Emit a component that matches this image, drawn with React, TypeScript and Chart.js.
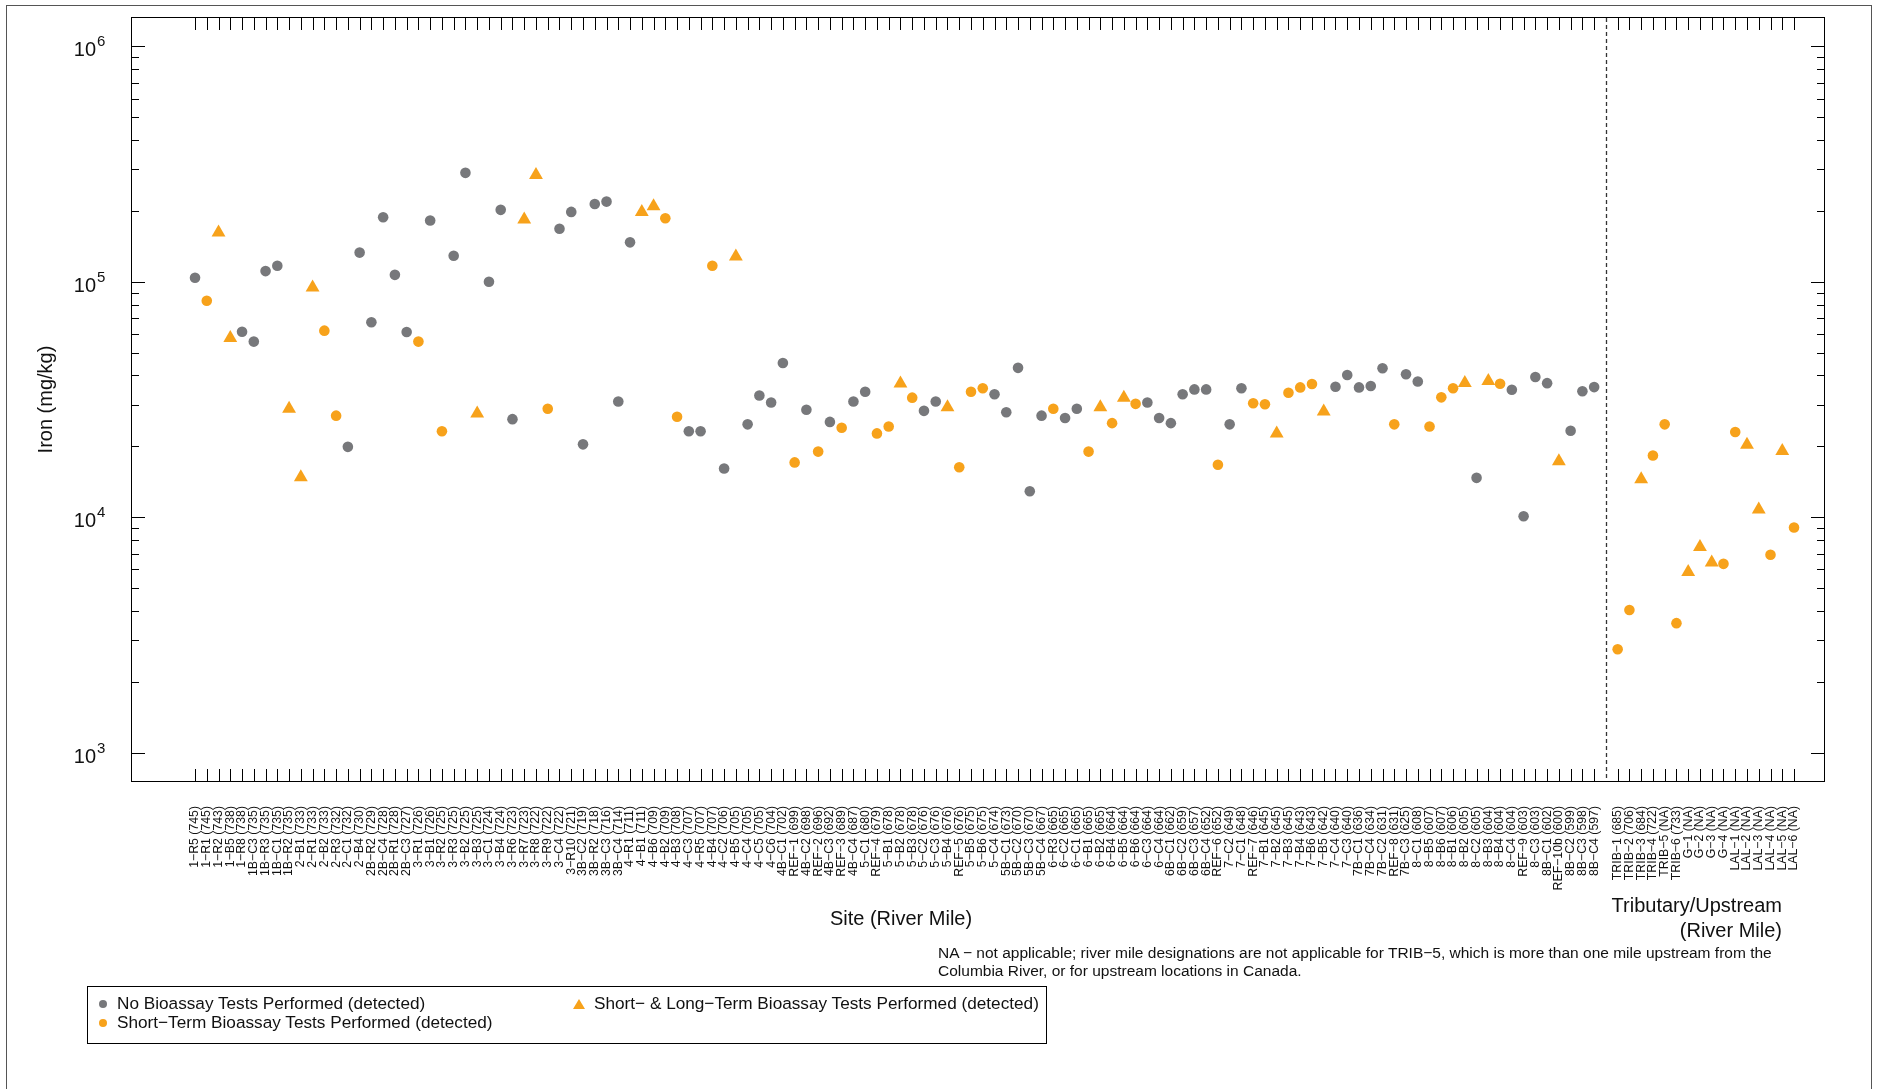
import React, { useEffect, useRef } from 'react';
import { Chart, registerables } from 'chart.js';

Chart.register(...registerables);

const FONT = '"Liberation Sans", Arial, Helvetica, sans-serif';

// Site labels (river mile) in the Columbia River reach
const mainSites = [
  '1−R5 (745)', '1−R1 (745)', '1−R2 (743)', '1−B5 (738)', '1−R8 (738)', '1B−C3 (735)', '1B−R3 (735)', '1B−C1 (735)',
  '1B−R2 (735)', '2−B1 (733)', '2−R1 (733)', '2−B2 (733)', '2−R3 (732)', '2−C1 (732)', '2−B4 (730)', '2B−R2 (729)',
  '2B−C4 (728)', '2B−R1 (728)', '2B−C3 (727)', '3−R1 (726)', '3−B1 (726)', '3−R2 (725)', '3−R3 (725)', '3−B2 (725)',
  '3−B3 (725)', '3−C1 (724)', '3−B4 (724)', '3−R6 (723)', '3−R7 (723)', '3−R8 (722)', '3−R9 (722)', '3−C4 (722)',
  '3−R10 (721)', '3B−C2 (719)', '3B−R2 (718)', '3B−C3 (716)', '3B−C4 (714)', '4−R1 (711)', '4−B1 (711)', '4−B6 (709)',
  '4−B2 (709)', '4−B3 (708)', '4−C3 (707)', '4−R5 (707)', '4−B4 (707)', '4−C2 (706)', '4−B5 (705)', '4−C4 (705)',
  '4−C5 (705)', '4−C6 (704)', '4B−C1 (702)', 'REF−1 (699)', '4B−C2 (698)', 'REF−2 (696)', '4B−C3 (692)', 'REF−3 (689)',
  '4B−C4 (687)', '5−C1 (680)', 'REF−4 (679)', '5−B1 (678)', '5−B2 (678)', '5−B3 (678)', '5−C2 (676)', '5−C3 (676)',
  '5−B4 (676)', 'REF−5 (676)', '5−B5 (675)', '5−B6 (675)', '5−C4 (674)', '5B−C1 (673)', '5B−C2 (670)', '5B−C3 (670)',
  '5B−C4 (667)', '6−R3 (665)', '6−C2 (665)', '6−C1 (665)', '6−B1 (665)', '6−B2 (665)', '6−B4 (664)', '6−B5 (664)',
  '6−B6 (664)', '6−C3 (664)', '6−C4 (664)', '6B−C1 (662)', '6B−C2 (659)', '6B−C3 (657)', '6B−C4 (652)', 'REF−6 (652)',
  '7−C2 (649)', '7−C1 (648)', 'REF−7 (646)', '7−B1 (645)', '7−B2 (645)', '7−B3 (645)', '7−B4 (643)', '7−B6 (643)',
  '7−B5 (642)', '7−C4 (640)', '7−C3 (640)', '7B−C1 (636)', '7B−C4 (634)', '7B−C2 (631)', 'REF−8 (631)', '7B−C3 (625)',
  '8−C1 (608)', '8−B5 (607)', '8−B6 (607)', '8−B1 (606)', '8−B2 (605)', '8−C2 (605)', '8−B3 (604)', '8−B4 (604)',
  '8−C4 (604)', 'REF−9 (603)', '8−C3 (603)', '8B−C1 (602)', 'REF−10b (600)', '8B−C2 (599)', '8B−C3 (598)', '8B−C4 (597)',
];

// Iron (mg/kg) for the main sites
const mainIron = [
  104000, 83000, 162000, 57700, 61300, 55700, 111000, 117000,
  28900, 14800, 94500, 62000, 27000, 19900, 133000, 67300,
  188000, 107000, 61200, 55700, 182000, 23200, 129000, 290000,
  27600, 100000, 202000, 26100, 184000, 284000, 28900, 168000,
  198000, 20400, 214000, 219000, 31000, 147000, 198000, 209000,
  186000, 26700, 23200, 23200, 117000, 16100, 128000, 24800,
  32900, 30700, 45200, 17100, 28600, 19000, 25400, 24000,
  31000, 34100, 22700, 24300, 37000, 32200, 28300, 31000,
  29300, 16300, 34100, 35300, 33300, 27900, 43100, 12900,
  27000, 28900, 26400, 28900, 19000, 29300, 25100, 32200,
  30300, 30700, 26400, 25100, 33300, 34900, 34900, 16700,
  24800, 35300, 30500, 30200, 22700, 33800, 35600, 36800,
  28100, 35800, 40200, 35600, 36100, 42900, 24800, 40500,
  37700, 24300, 32300, 35300, 37200, 14700, 37900, 36900,
  34800, 10100, 39400, 37100, 17300, 23300, 34300, 35700,
];

// Bioassay group: N = none, S = short-term, L = short- & long-term
const mainGroup = [
  'N', 'S', 'L', 'L', 'N', 'N', 'N', 'N', 'L', 'L', 'L', 'S', 'S', 'N', 'N', 'N',
  'N', 'N', 'N', 'S', 'N', 'S', 'N', 'N', 'L', 'N', 'N', 'N', 'L', 'L', 'S', 'N',
  'N', 'N', 'N', 'N', 'N', 'N', 'L', 'L', 'S', 'S', 'N', 'N', 'S', 'N', 'L', 'N',
  'N', 'N', 'N', 'S', 'N', 'S', 'N', 'S', 'N', 'N', 'S', 'S', 'L', 'S', 'N', 'N',
  'L', 'S', 'S', 'S', 'N', 'N', 'N', 'N', 'N', 'S', 'N', 'N', 'S', 'L', 'S', 'L',
  'S', 'N', 'N', 'N', 'N', 'N', 'N', 'S', 'N', 'N', 'S', 'S', 'L', 'S', 'S', 'S',
  'L', 'N', 'N', 'N', 'N', 'N', 'S', 'N', 'N', 'S', 'S', 'S', 'L', 'N', 'L', 'S',
  'N', 'N', 'N', 'N', 'L', 'N', 'N', 'N',
];

// Tributary / upstream sites
const tribSites = [
  'TRIB−1 (685)', 'TRIB−2 (706)', 'TRIB−3 (684)', 'TRIB−4 (722)', 'TRIB−5 (NA)', 'TRIB−6 (733)',
  'G−1 (NA)', 'G−2 (NA)', 'G−3 (NA)', 'G−4 (NA)',
  'LAL−1 (NA)', 'LAL−2 (NA)', 'LAL−3 (NA)', 'LAL−4 (NA)', 'LAL−5 (NA)', 'LAL−6 (NA)',
];
const tribIron = [2750, 4040, 14500, 18300, 24800, 3550, 5850, 7480, 6420, 6340, 23000, 20300, 10800, 6930, 19100, 9040];
const tribGroup = ['S', 'S', 'L', 'S', 'S', 'S', 'L', 'L', 'L', 'S', 'S', 'L', 'L', 'S', 'L', 'S'];

const yTickPowers = [3, 4, 5, 6];

const GRAY = '#77787b';
const ORANGE = '#f7a21b';

// axis ranges
const X_MIN = -4.36;
const X_MAX = 139.55;
const Y_MIN = Math.pow(10, 2.88);
const Y_MAX = Math.pow(10, 6.12);
const DIVIDER = mainSites.length + 1;

const W = 1879;
const H = 1089;

export default function App() {
  const ref = useRef<HTMLCanvasElement | null>(null);

  useEffect(() => {
    const canvas = ref.current;
    if (!canvas) return;

    const positions: number[] = [];
    const labels: string[] = [];
    const values: number[] = [];
    const groups: string[] = [];
    mainSites.forEach((s, i) => {
      positions.push(i + 1);
      labels.push(s);
      values.push(mainIron[i]);
      groups.push(mainGroup[i]);
    });
    tribSites.forEach((s, i) => {
      positions.push(DIVIDER + 1 + i);
      labels.push(s);
      values.push(tribIron[i]);
      groups.push(tribGroup[i]);
    });
    const labelByPos = new Map<number, string>();
    positions.forEach((p, i) => labelByPos.set(p, labels[i]));

    const pick = (g: string) =>
      positions
        .map((p, i) => ({ x: p, y: values[i], g: groups[i] }))
        .filter((d) => d.g === g)
        .map((d) => ({ x: d.x, y: d.y }));

    const framePlugin = {
      id: 'frame',
      afterDatasetsDraw(chart: any) {
        const { ctx, chartArea } = chart;
        const { left, right, top, bottom } = chartArea;
        const xs = chart.scales.x;
        const ys = chart.scales.y;
        ctx.save();
        // dashed divider
        const dx = Math.round(xs.getPixelForValue(DIVIDER)) + 0.5;
        ctx.strokeStyle = '#333';
        ctx.lineWidth = 1.3;
        ctx.setLineDash([4, 3]);
        ctx.beginPath();
        ctx.moveTo(dx, top);
        ctx.lineTo(dx, bottom);
        ctx.stroke();
        ctx.setLineDash([]);

        ctx.strokeStyle = '#000';
        ctx.lineWidth = 1;
        ctx.strokeRect(Math.round(left) - 0.5, Math.round(top) - 0.5, Math.round(right - left) + 1, Math.round(bottom - top) + 1);

        ctx.beginPath();
        positions.forEach((p) => {
          const px = Math.round(xs.getPixelForValue(p)) + 0.5;
          ctx.moveTo(px, bottom);
          ctx.lineTo(px, bottom - 12);
          ctx.moveTo(px, top);
          ctx.lineTo(px, top + 12);
        });
        for (let k = 3; k <= 6; k++) {
          for (let m = 1; m <= 9; m++) {
            const v = m * Math.pow(10, k);
            if (v > 1e6) continue;
            const py = Math.round(ys.getPixelForValue(v)) + 0.5;
            const len = m === 1 ? 13 : 7;
            ctx.moveTo(left, py);
            ctx.lineTo(left + len, py);
            ctx.moveTo(right, py);
            ctx.lineTo(right - len, py);
          }
        }
        ctx.stroke();

        // y tick labels 10^k
        ctx.fillStyle = '#111';
        ctx.textBaseline = 'alphabetic';
        yTickPowers.forEach((k) => {
          const py = ys.getPixelForValue(Math.pow(10, k));
          ctx.font = `20px ${FONT}`;
          ctx.textAlign = 'right';
          ctx.fillText('10', 96, py + 10);
          ctx.font = `15px ${FONT}`;
          ctx.textAlign = 'left';
          ctx.fillText(String(k), 97, py);
        });
        ctx.restore();
      },
    };

    const chart = new Chart(canvas, {
      type: 'scatter',
      data: {
        datasets: [
          {
            label: 'No Bioassay Tests Performed (detected)',
            data: pick('N'),
            pointStyle: 'circle',
            pointRadius: 5.3,
            pointBackgroundColor: GRAY,
            pointBorderWidth: 0,
          },
          {
            label: 'Short−Term Bioassay Tests Performed (detected)',
            data: pick('S'),
            pointStyle: 'circle',
            pointRadius: 5.3,
            pointBackgroundColor: ORANGE,
            pointBorderWidth: 0,
          },
          {
            label: 'Short− & Long−Term Bioassay Tests Performed (detected)',
            data: pick('L'),
            pointStyle: 'triangle',
            pointRadius: 8,
            pointBackgroundColor: ORANGE,
            pointBorderWidth: 0,
          },
        ],
      },
      options: {
        responsive: false,
        animation: false,
        events: [],
        layout: { padding: { left: 0, top: 18, right: 55, bottom: 0 } },
        plugins: { legend: { display: false }, tooltip: { enabled: false } },
        scales: {
          x: {
            type: 'linear',
            min: X_MIN,
            max: X_MAX,
            bounds: 'data',
            grid: { display: false, drawTicks: false },
            border: { display: false },
            afterBuildTicks: (s: any) => {
              s.ticks = positions.map((v) => ({ value: v }));
            },
            afterFit: (s: any) => {
              s.height = H - 781;
            },
            ticks: {
              autoSkip: false,
              minRotation: 90,
              maxRotation: 90,
              padding: 25,
              color: '#111',
              font: { family: FONT, size: 12.3 },
              callback: (v: any) => labelByPos.get(Number(v)) ?? '',
            },
          },
          y: {
            type: 'logarithmic',
            min: Y_MIN,
            max: Y_MAX,
            grid: { display: false, drawTicks: false },
            border: { display: false },
            ticks: { display: false },
            afterFit: (s: any) => {
              s.width = 132;
            },
            title: {
              display: true,
              text: 'Iron (mg/kg)',
              color: '#111',
              font: { family: FONT, size: 20 },
              padding: { top: 34, bottom: 0 },
            },
          },
        },
      },
      plugins: [framePlugin],
    } as any);

    return () => chart.destroy();
  }, []);

  const text: React.CSSProperties = {
    position: 'absolute',
    fontFamily: FONT,
    color: '#111',
    whiteSpace: 'nowrap',
    lineHeight: 1,
  };

  const dot = (color: string): React.CSSProperties => ({
    position: 'absolute',
    width: 8,
    height: 8,
    borderRadius: '50%',
    background: color,
  });

  return (
    <div style={{ position: 'absolute', left: 0, top: 0, width: W, height: H, overflow: 'hidden', background: '#fff' }}>
      <div style={{ position: 'absolute', left: 6, top: 5, width: 1866, height: 1200, border: '1px solid #555', boxSizing: 'border-box' }} />
      <canvas ref={ref} width={W} height={H} style={{ position: 'absolute', left: 0, top: 0, width: W, height: H }} />

      <div style={{ ...text, fontSize: 20, left: 901, top: 918, transform: 'translate(-50%, -50%)' }}>Site (River Mile)</div>
      <div style={{ ...text, fontSize: 20, right: W - 1782, top: 905, transform: 'translateY(-50%)' }}>Tributary/Upstream</div>
      <div style={{ ...text, fontSize: 20, right: W - 1782, top: 930, transform: 'translateY(-50%)' }}>(River Mile)</div>

      <div style={{ ...text, fontSize: 15.5, left: 938, top: 953, transform: 'translateY(-50%)' }}>
        NA − not applicable; river mile designations are not applicable for TRIB−5, which is more than one mile upstream from the
      </div>
      <div style={{ ...text, fontSize: 15.5, left: 938, top: 971, transform: 'translateY(-50%)' }}>
        Columbia River, or for upstream locations in Canada.
      </div>

      <div style={{ position: 'absolute', left: 87, top: 986, width: 960, height: 58, border: '1px solid #000', boxSizing: 'border-box' }}>
        <div style={{ ...dot(GRAY), left: 11, top: 17 - 4 }} />
        <div style={{ ...text, fontSize: 17.2, left: 29, top: 17, transform: 'translateY(-50%)' }}>No Bioassay Tests Performed (detected)</div>
        <div style={{ ...dot(ORANGE), left: 11, top: 36 - 4 }} />
        <div style={{ ...text, fontSize: 17.2, left: 29, top: 36, transform: 'translateY(-50%)' }}>Short−Term Bioassay Tests Performed (detected)</div>
        <div
          style={{
            position: 'absolute',
            left: 491 - 6,
            top: 17 - 5,
            width: 0,
            height: 0,
            borderLeft: '6px solid transparent',
            borderRight: '6px solid transparent',
            borderBottom: `10px solid ${ORANGE}`,
          }}
        />
        <div style={{ ...text, fontSize: 17.2, left: 506, top: 17, transform: 'translateY(-50%)' }}>Short− &amp; Long−Term Bioassay Tests Performed (detected)</div>
      </div>
    </div>
  );
}
